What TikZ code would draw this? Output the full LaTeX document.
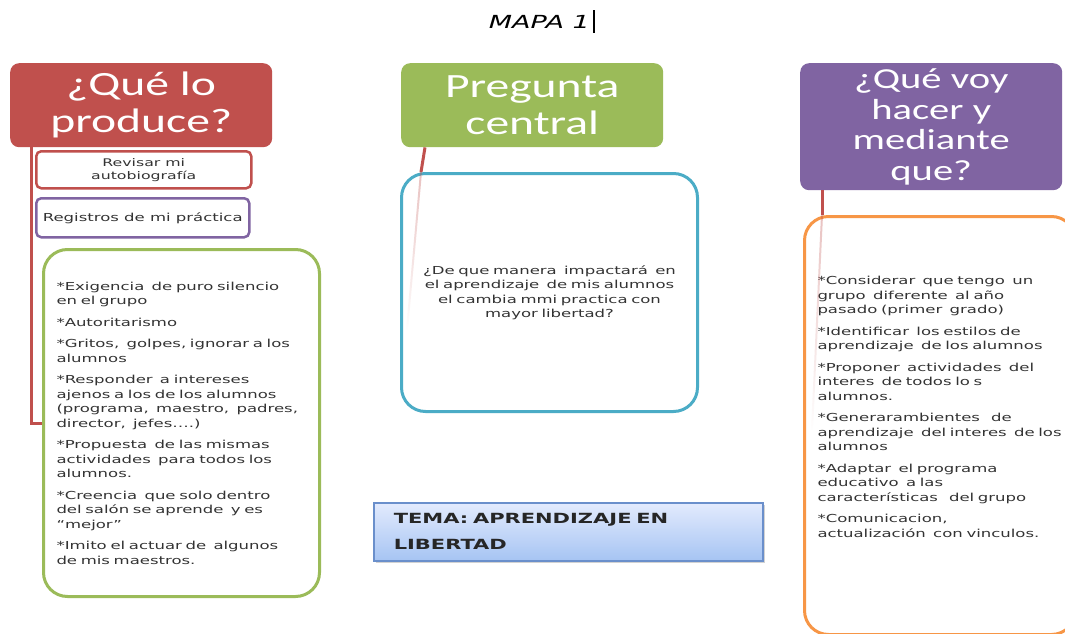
\documentclass[tikz,border=0pt]{standalone}
\usepackage{fontspec}
\usepackage{tikz}
\usetikzlibrary{fadings,shadows}

\newfontfamily\headfont{Carlito}[FakeStretch=1.4]
\newfontfamily\bodyfont{DejaVu Sans}[FakeStretch=1.5]

\definecolor{hdrred}{HTML}{C0504D}
\definecolor{hdrgreen}{HTML}{9BBB59}
\definecolor{hdrpurple}{HTML}{8064A2}
\definecolor{boxblue}{HTML}{4BACC6}
\definecolor{boxorange}{HTML}{F79646}
\definecolor{temaedge}{HTML}{6A8FCB}
\definecolor{tematop}{HTML}{E3EBFD}
\definecolor{temabot}{HTML}{A6C4F3}

\begin{document}
\begin{tikzpicture}[x=1pt,y=-1pt,
    header/.style={fill=#1, rounded corners=9pt, text=white, align=center,
      anchor=north west, inner sep=0pt, minimum width=262pt, minimum height=84pt,
      font=\headfont\fontsize{34}{37}\selectfont},
    smallbox/.style={draw=#1, line width=2.5pt, rounded corners=5pt, fill=white,
      anchor=north west, minimum width=215pt, minimum height=37pt, align=center,
      text=black!80, font=\bodyfont\fontsize{10.5}{13}\selectfont},
    bigbox/.style={draw=#1, line width=3pt, rounded corners=24pt, fill=white,
      anchor=north west, align=left, inner xsep=13pt, text=black!80,
      font=\bodyfont\fontsize{11}{14.5}\selectfont},
    link/.style={draw=hdrred, line width=3pt},
    faint/.style={draw=hdrred, line width=2pt, draw opacity=0.35, path fading=south}]

    % Page
    \useasboundingbox (0,0) rectangle (1065,634);
    \fill[white] (0,0) rectangle (1065,634);

    % Title
    \node[anchor=base, font=\bodyfont\itshape\fontsize{18}{20}\selectfont] (titulo) at (542,29)
      {MAPA 1\hspace{3pt}\rule[-4pt]{2.5pt}{23pt}};

    % Headers
    \node[header=hdrred]    (produce)  at (10,63)  {¿Qué lo\\produce?};
    \node[header=hdrgreen]  (pregunta) at (401,63) {Pregunta\\central};
    \node[header=hdrpurple, minimum height=127pt,
      font=\headfont\fontsize{29}{30.5}\selectfont] (hacer) at (800,63)
      {¿Qué voy\\hacer y\\mediante\\que?};

    % Left column
    \node[smallbox=hdrred] (revisar) at (35,150) {Revisar mi\\autobiografía};
    \node[smallbox=hdrpurple, minimum width=213pt, minimum height=39pt,
      font=\bodyfont\fontsize{11}{13}\selectfont] (registros) at (35,197)
      {Registros de mi práctica};
    \node[bigbox=hdrgreen, minimum width=276pt, minimum height=347pt, text width=250pt]
      (causas) at (42,248)
      {*Exigencia\ \ de puro silencio\\en el grupo\\[7pt]
       *Autoritarismo\\[7pt]
       *Gritos,\ \ golpes, ignorar a los\\alumnos\\[7pt]
       *Responder\ \ a intereses\\ajenos a los de los alumnos\\(programa,\ \ maestro,\ \ padres,\\director,\ \ jefes….)\\[7pt]
       *Propuesta\ \ de las mismas\\actividades\ \ para todos los\\alumnos.\\[7pt]
       *Creencia\ \ que solo dentro\\del salón se aprende\ \ y es\\“mejor”\\[7pt]
       *Imito el actuar de\ \ algunos\\de mis maestros.};

    % Middle column
    \node[bigbox=boxblue, align=center, minimum width=283pt, minimum height=238pt,
      text width=270pt] (central) at (400,172)
      {¿De que manera\ \ impactará\ \ en\\el aprendizaje\ \ de mis alumnos\\el cambia mmi practica con\\mayor libertad?};
    \node[draw=temaedge, line width=1.5pt, top color=tematop, bottom color=temabot,
      drop shadow={shadow xshift=2pt, shadow yshift=-2pt, opacity=0.35},
      anchor=north west, minimum width=389pt, minimum height=58pt, text width=349pt,
      inner xsep=20pt, align=left, text=black!85,
      font=\bodyfont\bfseries\fontsize{14}{26}\selectfont] (tema) at (373,502)
      {TEMA: APRENDIZAJE EN\\LIBERTAD};

    % Right column
    \node[bigbox=boxorange, minimum width=269pt, minimum height=418pt, text width=245pt]
      (acciones) at (803,215)
      {*Considerar\ \ que tengo\ \ un\\grupo\ \ diferente\ \ al año\\pasado (primer\ \ grado)\\[7pt]
       *Identificar\ \ los estilos de\\aprendizaje\ \ de los alumnos\\[7pt]
       *Proponer\ \ actividades\ \ del\\interes\ \ de todos lo s\\alumnos.\\[7pt]
       *Generarambientes\quad de\\aprendizaje\ \ del interes\ \ de los\\alumnos\\[7pt]
       *Adaptar\ \ el programa\\educativo\ \ a las\\características\quad del grupo\\[7pt]
       *Comunicacion,\\actualización\ \ con vinculos.\\[23pt]\mbox{}};

    % Connectors
    \coordinate (finA) at (407,330);
    \coordinate (finB) at (812,430);
    \draw[link] ([xshift=21pt]produce.south west) |- (causas.west);
    \draw[link] ([xshift=24pt]pregunta.south west) -- ([xshift=21pt]central.north west);
    \draw[faint] ([xshift=21pt]central.north west) -- (finA);
    \draw[link] ([xshift=22pt]hacer.south west) -- ([xshift=19pt]acciones.north west);
    \draw[faint] ([xshift=19pt]acciones.north west) -- (finB);

\end{tikzpicture}
\end{document}
